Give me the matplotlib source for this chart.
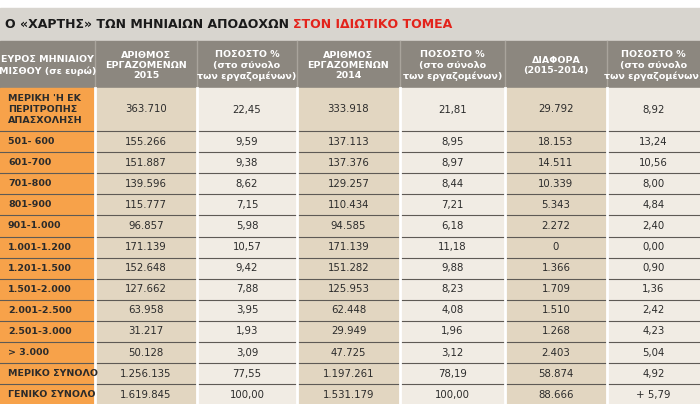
import matplotlib
matplotlib.use("Agg")
import matplotlib.pyplot as plt
from matplotlib.patches import Rectangle

plt.rcParams['font.family'] = ['Liberation Sans Narrow', 'DejaVu Sans']

title_black = "Ο «ΧΑΡΤΗΣ» ΤΩΝ ΜΗΝΙΑΙΩΝ ΑΠΟΔΟΧΩΝ "
title_red = "ΣΤΟΝ ΙΔΙΩΤΙΚΟ ΤΟΜΕΑ"
headers = ["ΕΥΡΟΣ ΜΗΝΙΑΙΟΥ\nΜΙΣΘΟΥ (σε ευρώ)", "ΑΡΙΘΜΟΣ\nΕΡΓΑΖΟΜΕΝΩΝ\n2015",
           "ΠΟΣΟΣΤΟ %\n(στο σύνολο\nτων εργαζομένων)", "ΑΡΙΘΜΟΣ\nΕΡΓΑΖΟΜΕΝΩΝ\n2014",
           "ΠΟΣΟΣΤΟ %\n(στο σύνολο\nτων εργαζομένων)", "ΔΙΑΦΟΡΑ\n(2015-2014)",
           "ΠΟΣΟΣΤΟ %\n(στο σύνολο\nτων εργαζομένων)"]
categories = ["ΜΕΡΙΚΗ 'Η ΕΚ\nΠΕΡΙΤΡΟΠΗΣ\nΑΠΑΣΧΟΛΗΣΗ", "501- 600", "601-700", "701-800", "801-900",
              "901-1.000", "1.001-1.200", "1.201-1.500", "1.501-2.000", "2.001-2.500",
              "2.501-3.000", "> 3.000", "ΜΕΡΙΚΟ ΣΥΝΟΛΟ", "ΓΕΝΙΚΟ ΣΥΝΟΛΟ"]
employees_2015 = ["363.710", "155.266", "151.887", "139.596", "115.777", "96.857", "171.139",
                  "152.648", "127.662", "63.958", "31.217", "50.128", "1.256.135", "1.619.845"]
pct_2015 = ["22,45", "9,59", "9,38", "8,62", "7,15", "5,98", "10,57", "9,42", "7,88", "3,95",
            "1,93", "3,09", "77,55", "100,00"]
employees_2014 = ["333.918", "137.113", "137.376", "129.257", "110.434", "94.585", "171.139",
                  "151.282", "125.953", "62.448", "29.949", "47.725", "1.197.261", "1.531.179"]
pct_2014 = ["21,81", "8,95", "8,97", "8,44", "7,21", "6,18", "11,18", "9,88", "8,23", "4,08",
            "1,96", "3,12", "78,19", "100,00"]
diff = ["29.792", "18.153", "14.511", "10.339", "5.343", "2.272", "0", "1.366", "1.709",
        "1.510", "1.268", "2.403", "58.874", "88.666"]
pct_diff = ["8,92", "13,24", "10,56", "8,00", "4,84", "2,40", "0,00", "0,90", "1,36", "2,42",
            "4,23", "5,04", "4,92", "+ 5,79"]

W, H = 700, 404
fig = plt.figure(figsize=(W/100, H/100), dpi=100)
ax = fig.add_axes([0, 0, 1, 1])
ax.set_xlim(0, W); ax.set_ylim(H, 0); ax.axis('off')

col_x = [0, 95, 197, 297, 400, 505, 607, 700]
dark, light = "#e2d6c1", "#f1ece4"
col_bg = ["#f7a24a", dark, light, dark, light, dark, light]

ax.add_patch(Rectangle((0, 0), W, 8, color="white"))
ax.add_patch(Rectangle((0, 8), W, 33, color="#d8d5cf"))
t = ax.text(5, 24, title_black, fontsize=9, fontweight='bold', va='center', ha='left', color="#1a1a1a")
fig.canvas.draw()
bb = t.get_window_extent()
ax.text(5 + bb.width, 24, title_red, fontsize=9, fontweight='bold', va='center', ha='left', color="#e3231b")

hdr_top, hdr_bot = 41, 88
ax.add_patch(Rectangle((0, hdr_top), W, hdr_bot - hdr_top, color="#8c877f"))
for i, h in enumerate(headers):
    ax.text((col_x[i] + col_x[i+1]) / 2, (hdr_top + hdr_bot) / 2 + 1, h, ha='center', va='center',
            color="white", fontsize=6.8, fontweight='bold', linespacing=1.2)
for x in col_x[1:-1]:
    ax.plot([x, x], [hdr_top, hdr_bot], color="#a9a49c", lw=1)

row_y = [88, 131] + [131 + 21.1 * k for k in range(1, 14)]
cols = [categories, employees_2015, pct_2015, employees_2014, pct_2014, diff, pct_diff]
for r in range(len(categories)):
    y0, y1 = row_y[r], row_y[r+1]
    for c in range(7):
        ax.add_patch(Rectangle((col_x[c], y0), col_x[c+1] - col_x[c], y1 - y0, color=col_bg[c]))
        if c == 0:
            ax.text(8, (y0 + y1) / 2, cols[c][r], ha='left', va='center', fontsize=6.8,
                    fontweight='bold', color="#2b2b2b", linespacing=1.35)
        else:
            ax.text((col_x[c] + col_x[c+1]) / 2, (y0 + y1) / 2, cols[c][r], ha='center', va='center',
                    fontsize=7.3, color="#2b2b2b")
    ax.plot([0, W], [y1, y1], color="#5e5a55", lw=0.8)
for x in col_x[1:-1]:
    ax.plot([x, x], [88, H], color="white", lw=2)

fig.savefig("out.png", dpi=100)
